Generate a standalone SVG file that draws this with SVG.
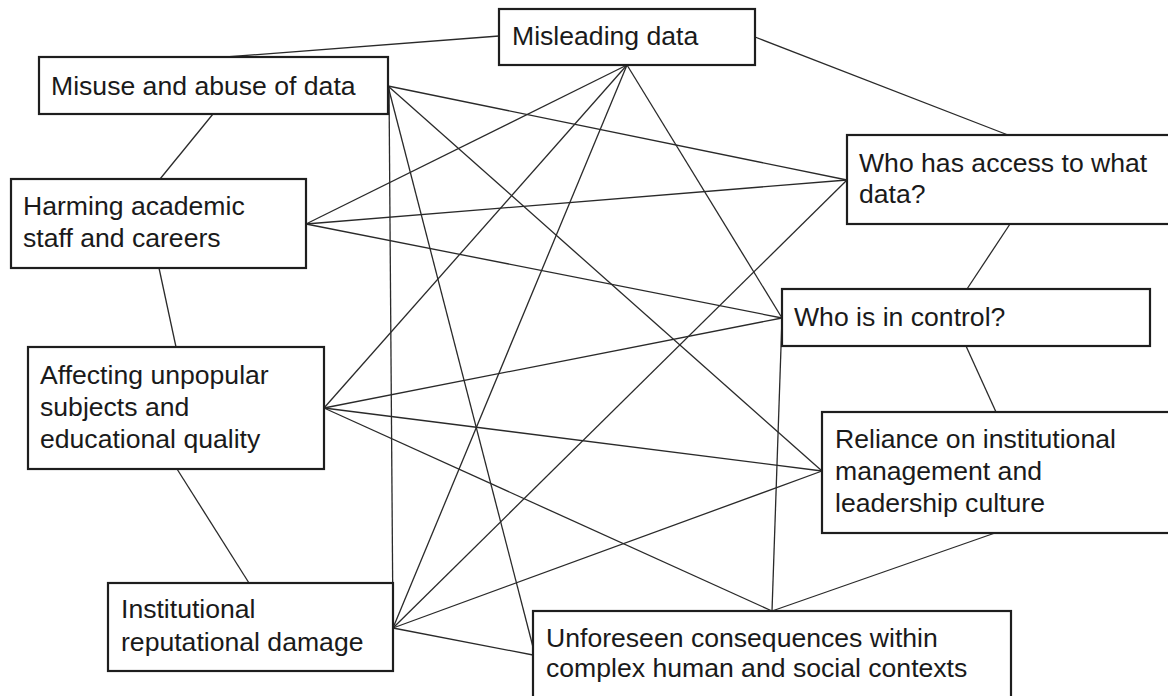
<svg xmlns="http://www.w3.org/2000/svg" width="1168" height="696" viewBox="0 0 1168 696">
  <style>
    .link { stroke: #2a2a2a; stroke-width: 1.3; fill: none; }
    .box { fill: #ffffff; stroke: #1e1e1e; stroke-width: 2.2; }
    .label { font-family: "Liberation Sans", Arial, sans-serif; font-size: 26.6px; fill: #1a1a1a; }
  </style>
  <rect x="0" y="0" width="1168" height="696" fill="#ffffff"/>

  <!-- connectors, drawn under the boxes -->
  <g id="connectors">
    <!-- outer ring -->
    <line class="link" x1="226" y1="57" x2="499" y2="36"/>
    <line class="link" x1="755" y1="37" x2="1008" y2="135"/>
    <line class="link" x1="213" y1="114" x2="160" y2="179"/>
    <line class="link" x1="159" y1="268" x2="176" y2="347"/>
    <line class="link" x1="177" y1="469" x2="249" y2="583"/>
    <line class="link" x1="1010" y1="224" x2="967" y2="289"/>
    <line class="link" x1="966" y1="346" x2="996" y2="412"/>
    <line class="link" x1="995" y1="533" x2="772" y2="611"/>
    <!-- from misuse and abuse of data -->
    <line class="link" x1="388" y1="86" x2="847" y2="180"/>
    <line class="link" x1="388" y1="86" x2="822" y2="471"/>
    <line class="link" x1="388" y1="86" x2="533" y2="647"/>
    <line class="link" x1="389" y1="86" x2="393" y2="628"/>
    <!-- from misleading data -->
    <line class="link" x1="627" y1="65" x2="306" y2="224"/>
    <line class="link" x1="627" y1="65" x2="324" y2="408"/>
    <line class="link" x1="627" y1="65" x2="393" y2="628"/>
    <line class="link" x1="627" y1="65" x2="782" y2="318"/>
    <!-- from harming academic staff -->
    <line class="link" x1="306" y1="224" x2="847" y2="180"/>
    <line class="link" x1="306" y1="224" x2="782" y2="318"/>
    <!-- from who has access -->
    <line class="link" x1="847" y1="180" x2="393" y2="628"/>
    <!-- from who is in control -->
    <line class="link" x1="782" y1="318" x2="324" y2="408"/>
    <line class="link" x1="782" y1="318" x2="772" y2="611"/>
    <!-- from affecting unpopular subjects -->
    <line class="link" x1="324" y1="408" x2="822" y2="471"/>
    <line class="link" x1="324" y1="408" x2="772" y2="611"/>
    <!-- from institutional reputational damage -->
    <line class="link" x1="393" y1="628" x2="822" y2="471"/>
    <line class="link" x1="393" y1="628" x2="533" y2="655"/>
  </g>

  <g id="misleading-data">
    <rect class="box" x="499" y="9" width="256" height="56"/>
    <text class="label" x="512" y="45">Misleading data</text>
  </g>

  <g id="misuse-abuse">
    <rect class="box" x="39" y="57" width="349" height="57"/>
    <text class="label" x="51" y="95">Misuse and abuse of data</text>
  </g>

  <g id="harming-staff">
    <rect class="box" x="11" y="179" width="295" height="89"/>
    <text class="label" x="23" y="215">Harming academic</text>
    <text class="label" x="23" y="247">staff and careers</text>
  </g>

  <g id="affecting-subjects">
    <rect class="box" x="28" y="347" width="296" height="122"/>
    <text class="label" x="40" y="384">Affecting unpopular</text>
    <text class="label" x="40" y="416">subjects and</text>
    <text class="label" x="40" y="448">educational quality</text>
  </g>

  <g id="reputational-damage">
    <rect class="box" x="108" y="583" width="285" height="88"/>
    <text class="label" x="121" y="618">Institutional</text>
    <text class="label" x="121" y="651">reputational damage</text>
  </g>

  <g id="who-has-access">
    <rect class="box" x="847" y="135" width="323" height="89"/>
    <text class="label" x="859" y="172">Who has access to what</text>
    <text class="label" x="859" y="203">data?</text>
  </g>

  <g id="who-in-control">
    <rect class="box" x="782" y="289" width="368" height="57"/>
    <text class="label" x="794" y="326">Who is in control?</text>
  </g>

  <g id="reliance-management">
    <rect class="box" x="822" y="412" width="348" height="121"/>
    <text class="label" x="835" y="448">Reliance on institutional</text>
    <text class="label" x="835" y="480">management and</text>
    <text class="label" x="835" y="512">leadership culture</text>
  </g>

  <g id="unforeseen-consequences">
    <rect class="box" x="533" y="611" width="478" height="92"/>
    <text class="label" x="546" y="647">Unforeseen consequences within</text>
    <text class="label" x="546" y="677">complex human and social contexts</text>
  </g>
</svg>
